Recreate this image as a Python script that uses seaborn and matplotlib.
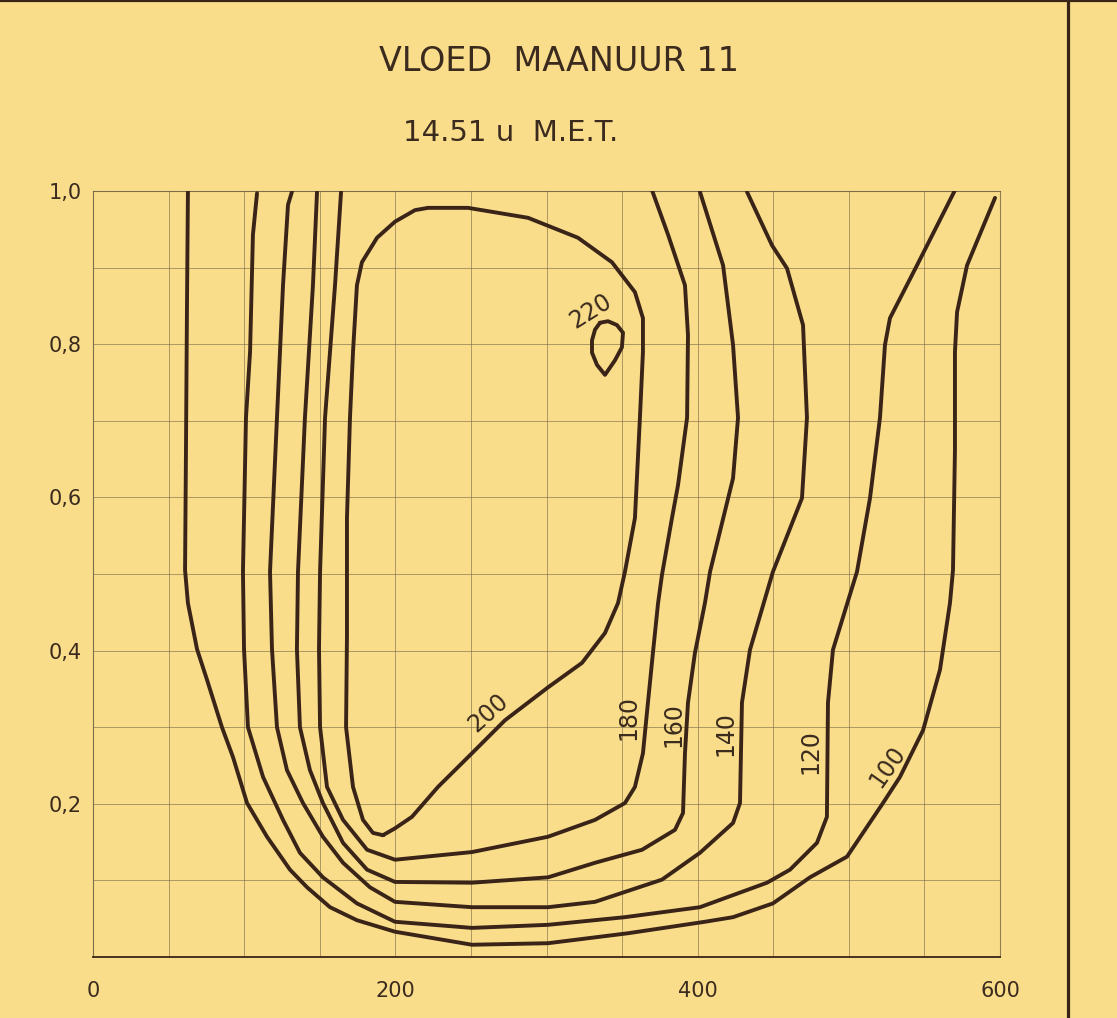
import numpy as np
import pandas as pd
import matplotlib
matplotlib.use("Agg")
import matplotlib.pyplot as plt
from matplotlib.lines import Line2D
import seaborn as sns

# Isolines of current velocity (cm/s): distance across section (m) vs relative depth
iso_100_x = [62.8, 62.2, 61.5, 60.9, 62.8, 68.8, 75.4, 85.3, 92.6, 101.9, 115.1, 130.3,
             141.6, 156.8, 174.6, 199.8, 250.7, 301.0, 353.9, 404.8, 423.4, 449.8, 474.3,
             498.8, 522.6, 533.8, 549.1, 560.3, 566.9, 568.9, 570.2, 570.2, 571.6, 578.2, 596.7]
iso_100_y = [1.000, 0.858, 0.662, 0.505, 0.462, 0.402, 0.362, 0.300, 0.261, 0.201, 0.157, 0.114,
             0.091, 0.065, 0.048, 0.033, 0.016, 0.018, 0.031, 0.046, 0.052, 0.070, 0.104,
             0.131, 0.201, 0.235, 0.296, 0.375, 0.462, 0.505, 0.662, 0.790, 0.842, 0.903, 0.991]

iso_120_x = [108.5, 105.8, 103.9, 101.2, 99.2, 99.9, 102.5, 112.5, 125.7, 136.9, 152.1, 174.6,
             199.8, 250.7, 301.0, 351.9, 401.5, 445.9, 461.1, 478.9, 485.5, 486.2, 489.5,
             505.4, 514.0, 520.6, 523.9, 527.2, 545.1, 570.2]
iso_120_y = [0.997, 0.943, 0.790, 0.704, 0.503, 0.402, 0.300, 0.235, 0.179, 0.136, 0.104, 0.070,
             0.046, 0.038, 0.042, 0.052, 0.065, 0.097, 0.114, 0.149, 0.183, 0.332, 0.401,
             0.503, 0.599, 0.704, 0.799, 0.834, 0.903, 1.001]

iso_140_x = [131.6, 129.0, 125.7, 121.7, 117.1, 118.4, 121.7, 128.3, 138.9, 152.1, 165.4, 183.2,
             199.8, 250.7, 301.0, 332.1, 376.4, 401.5, 423.4, 428.0, 429.3, 434.6, 449.8,
             469.0, 472.3, 469.7, 459.1, 449.2, 432.6]
iso_140_y = [0.999, 0.982, 0.877, 0.704, 0.503, 0.402, 0.300, 0.244, 0.201, 0.157, 0.123, 0.091,
             0.072, 0.065, 0.065, 0.072, 0.101, 0.136, 0.175, 0.201, 0.332, 0.401, 0.503,
             0.599, 0.704, 0.825, 0.899, 0.929, 0.999]

iso_160_x = [148.2, 145.5, 140.2, 135.6, 134.9, 136.9, 143.5, 152.1, 165.4, 181.3, 199.8, 250.7,
             301.0, 332.1, 363.2, 385.0, 390.3, 391.6, 393.6, 398.2, 404.8, 408.2, 423.4,
             426.7, 423.4, 416.8, 401.5]
iso_160_y = [0.999, 0.877, 0.704, 0.503, 0.402, 0.300, 0.244, 0.201, 0.149, 0.114, 0.098, 0.097,
             0.104, 0.123, 0.140, 0.166, 0.188, 0.266, 0.332, 0.397, 0.462, 0.503, 0.625,
             0.704, 0.799, 0.903, 0.999]

iso_180_x = [164.1, 160.1, 153.5, 150.2, 149.5, 150.2, 154.8, 165.4, 181.3, 199.8, 250.7, 301.0,
             332.1, 351.9, 358.5, 363.8, 367.1, 370.4, 373.8, 376.4, 383.0, 387.0, 393.0,
             393.6, 391.6, 380.4, 369.8]
iso_180_y = [0.999, 0.877, 0.704, 0.503, 0.402, 0.300, 0.222, 0.179, 0.140, 0.127, 0.137, 0.157,
             0.179, 0.201, 0.222, 0.266, 0.332, 0.397, 0.462, 0.499, 0.573, 0.616, 0.704,
             0.812, 0.877, 0.943, 1.001]

iso_200_x = [191.8, 185.2, 178.6, 172.0, 167.4, 168.0, 168.0, 168.0, 170.0, 172.0, 174.6, 177.9,
             187.9, 199.8, 213.0, 221.6, 248.1, 287.8, 320.8, 343.3, 358.5, 363.8, 363.8,
             361.8, 358.5, 351.9, 347.3, 338.7, 323.5, 301.0, 272.5, 250.7, 228.2, 211.0,
             199.8, 191.8]
iso_200_y = [0.159, 0.162, 0.179, 0.222, 0.300, 0.418, 0.503, 0.573, 0.704, 0.790, 0.877, 0.907,
             0.939, 0.960, 0.975, 0.978, 0.978, 0.965, 0.939, 0.907, 0.868, 0.834, 0.790,
             0.704, 0.573, 0.503, 0.462, 0.423, 0.384, 0.352, 0.309, 0.266, 0.222, 0.183,
             0.168, 0.159]

iso_220_x = [335.4, 340.7, 346.6, 350.6, 349.9, 345.3, 338.7, 333.4, 330.1, 330.1, 332.1, 335.4]
iso_220_y = [0.828, 0.830, 0.825, 0.815, 0.796, 0.779, 0.760, 0.773, 0.789, 0.805, 0.819, 0.828]

# Isoline labels: text, position, rotation
label_text = ["220", "200", "180", "160", "140", "120", "100"]
label_x = [329.4, 261.3, 353.9, 383.7, 418.1, 474.3, 525.9]
label_y = [0.843, 0.319, 0.313, 0.303, 0.292, 0.268, 0.248]
label_rot = [32, 42, 90, 90, 90, 90, 55]

x_ticks = [0, 200, 400, 600]
y_ticks = [0.2, 0.4, 0.6, 0.8, 1.0]

PAPER = "#F9DD8B"
INK = "#3A2417"
TEXT = "#3B2B1E"
GRID = "#6E5F40"

sns.set_theme(style="white")
plt.rcParams["font.family"] = ["DejaVu Sans"]

fig = plt.figure(figsize=(11.17, 10.18), dpi=100, facecolor=PAPER)
ax = fig.add_axes([93 / 1117, 61 / 1018, 907 / 1117, 766 / 1018])
ax.set_facecolor(PAPER)

curves = [
    (iso_100_x, iso_100_y), (iso_120_x, iso_120_y), (iso_140_x, iso_140_y),
    (iso_160_x, iso_160_y), (iso_180_x, iso_180_y), (iso_200_x, iso_200_y),
    (iso_220_x, iso_220_y),
]
for xs, ys in curves:
    df = pd.DataFrame({"x": xs, "y": ys})
    sns.lineplot(data=df, x="x", y="y", sort=False, estimator=None,
                 color=INK, linewidth=2.8, ax=ax)
for line in ax.lines:
    line.set_solid_joinstyle("round")
    line.set_solid_capstyle("round")
    line.set_zorder(3)

for s, lx, ly, r in zip(label_text, label_x, label_y, label_rot):
    ax.text(lx, ly, s, rotation=r, rotation_mode="anchor", ha="center", va="center",
            fontsize=17, color=TEXT, zorder=4)

ax.set_xlim(0, 600)
ax.set_ylim(0, 1.0)
grid_x = np.arange(0, 601, 50)
grid_y = np.round(np.arange(0, 1.001, 0.1), 1)
ax.set_xticks(grid_x)
ax.set_xticklabels([str(v) if v in x_ticks else "" for v in grid_x])
ax.set_yticks(grid_y)
ax.set_yticklabels([f"{v:.1f}".replace(".", ",") if any(abs(v - t) < 1e-9 for t in y_ticks) else ""
                    for v in grid_y])
ax.grid(True, color=GRID, linewidth=0.7, alpha=0.55)
ax.set_axisbelow(True)
ax.tick_params(axis="both", length=0, labelsize=15, labelcolor=TEXT)
ax.tick_params(axis="x", pad=17)
ax.tick_params(axis="y", pad=8)
ax.set_xlabel("")
ax.set_ylabel("")
for side, sp in ax.spines.items():
    sp.set_visible(True)
    sp.set_color(GRID)
    sp.set_alpha(0.75)
    sp.set_linewidth(0.8)
ax.spines["bottom"].set_linewidth(1.3)
ax.spines["bottom"].set_color(INK)
ax.spines["bottom"].set_alpha(1.0)

fig.text(0.5005, 0.940, "VLOED  MAANUUR 11", ha="center", va="center",
         fontsize=24, color=TEXT)
fig.text(0.4575, 0.869, "14.51 u  M.E.T.", ha="center", va="center",
         fontsize=21, color=TEXT)

# Page frame: rule along the top and a vertical rule on the right
fig.add_artist(Line2D([0, 1], [0.9992, 0.9992], transform=fig.transFigure,
                      color=INK, linewidth=1.6))
fig.add_artist(Line2D([1068 / 1117, 1068 / 1117], [0, 1], transform=fig.transFigure,
                      color=INK, linewidth=2.3))

fig.savefig("out.png", dpi=100, facecolor=PAPER)
